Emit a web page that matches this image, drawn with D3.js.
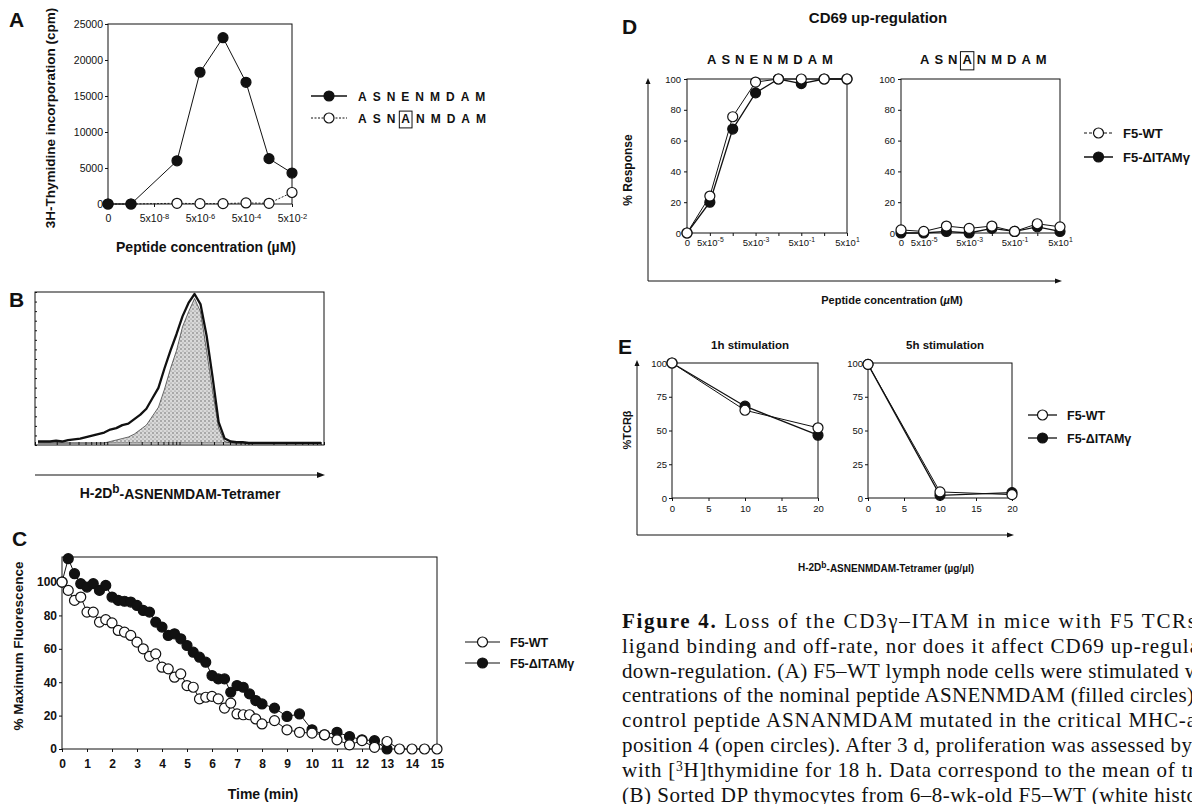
<!DOCTYPE html>
<html>
<head>
<meta charset="utf-8">
<style>
  body { margin: 0; background: #fff; }
  text { font-family: "Liberation Sans", Arial, sans-serif; fill: #111; }
  .bold { font-weight: bold; }
  .panel { font-size: 21px; font-weight: bold; }
  .caption { font-family: "Liberation Serif", "Times New Roman", serif; font-size: 21px; }
</style>
</head>
<body>
<svg id="fig" width="1192" height="804"></svg>
<script src="https://d3js.org/d3.v7.min.js"></script>
<script>
// ---- data ----
// A: proliferation vs peptide concentration (uM), 0 plotted at left edge
const concA = [0, 5e-9, 5e-7, 5e-6, 5e-5, 5e-4, 5e-3, 5e-2];
const asnenmdamA = [0, 0, 6000, 18300, 23100, 16900, 6300, 4300];
const asnanmdamA = [0, 0, 100, 50, 50, 150, 100, 1600];
const ticksA = [0, 5e-8, 5e-6, 5e-4, 5e-2];
const yTicksA = [0, 5000, 10000, 15000, 20000, 25000];

// B: tetramer histograms (48 channels)
const histOpen = [1, 1, 1, 1.5, 1, 2, 2.5, 3, 4, 5, 6, 7, 9, 10, 12, 13, 16, 19, 23, 30, 37, 50, 62, 73,
  85, 94, 100, 93, 72, 44, 14, 3, 1, 0.5, 0.5, 0, 0, 0, 0, 0, 0, 0, 0, 0, 0, 0, 0, 0];
const histFilled = [0, 0, 0, 0, 0, 0, 0, 0, 0, 0, 0, 0, 1, 2, 3, 4, 6, 9, 12, 18, 24, 36, 50, 62,
  78, 88, 97, 88, 62, 35, 10, 1, 0, 0, 0, 0, 0, 0, 0, 0, 0, 0, 0, 0, 0, 0, 0, 0];

// C: tetramer dissociation
const timeWT = [0, 0.25, 0.5, 0.75, 1, 1.25, 1.5, 1.75, 2, 2.25, 2.5, 2.75, 3, 3.25, 3.5, 3.75, 4, 4.25,
  4.5, 4.75, 5, 5.25, 5.5, 5.75, 6, 6.25, 6.5, 6.75, 7, 7.25, 7.5, 7.75, 8, 8.5, 9, 9.5, 10, 10.5,
  11, 11.5, 12, 12.5, 13, 13.5, 14, 14.5, 15];
const fluoWT = [100, 95, 89, 91, 82, 82, 76, 77.5, 75.5, 71, 70, 68, 64, 60, 55.5, 57, 49, 48,
  43, 45, 38, 37, 30, 31, 31.5, 30, 24.5, 27.5, 21, 20.5, 20.5, 18, 15, 17, 11.5, 10, 9.5, 8.5,
  5.5, 2.5, 5, 1, 4.5, 0, 0, 0, 0];
const timeItam = [0, 0.25, 0.5, 0.75, 1, 1.25, 1.5, 1.75, 2, 2.25, 2.5, 2.75, 3, 3.25, 3.5, 3.75, 4, 4.25,
  4.5, 4.75, 5, 5.25, 5.5, 5.75, 6, 6.25, 6.5, 6.75, 7, 7.25, 7.5, 7.75, 8, 8.5, 9, 9.5, 10, 10.5,
  11, 11.5, 12, 12.5, 13];
const fluoItam = [100, 114, 105, 99, 97, 99, 95, 98, 91, 89, 88.5, 88, 86, 83, 82, 76, 73, 68,
  69, 66, 62, 58, 55, 52, 44, 42, 42, 34, 38, 37, 33, 29, 27, 24.5, 19.5, 21, 11.5, 8.5,
  10, 7.5, 5.5, 5, 0];
const ticksC = d3.range(0, 16);
const yTicksC = [0, 20, 40, 60, 80, 100];

// D: CD69 up-regulation
const concD = [0, 5e-5, 5e-4, 5e-3, 5e-2, 5e-1, 5, 50];
const ticksD = [0, 5e-5, 5e-3, 5e-1, 50];
const asnenWT = [0, 24, 75.5, 98, 100, 100, 100, 100];
const asnenItam = [0, 20, 67.5, 91, 100, 97, 100, 100];
const asnanWT = [2, 1, 4.5, 3, 4.5, 1, 6, 4];
const asnanItam = [0, 0, 1, 0, 3, 1, 4, 1];
const yTicksD = [0, 20, 40, 60, 80, 100];

// E: TCR down-regulation
const doseE = [0, 10, 20];
const tcr1hWT = [100, 65, 52];
const tcr1hItam = [100, 68, 46.5];
const tcr5hWT = [99, 4.5, 2.5];
const tcr5hItam = [99, 2, 4];
const ticksE = [0, 5, 10, 15, 20];
const yTicksE = [0, 25, 50, 75, 100];

const captionLines = [
  ["Figure 4.", " Loss of the CD3γ–ITAM in mice with F5 TCRs"],
  ["", "ligand binding and off-rate, nor does it affect CD69 up-regula"],
  ["", "down-regulation. (A) F5–WT lymph node cells were stimulated w"],
  ["", "centrations of the nominal peptide ASNENMDAM (filled circles)"],
  ["", "control peptide ASNANMDAM mutated in the critical MHC-a"],
  ["", "position 4 (open circles). After 3 d, proliferation was assessed by"],
  ["", "with [|3|H]thymidine for 18 h. Data correspond to the mean of tr"],
  ["", "(B) Sorted DP thymocytes from 6–8-wk-old F5–WT (white histo"]
];
const captionOverflow = [4, 7, 8, 2, 4, 0, 3, 5];

// ---- helpers ----
const ink = "#111";
const svg = d3.select("#fig");

function box(x, y) {
  const [x0, x1] = x.range(), [y0, y1] = y.range();
  svg.append("rect").attr("x", x0).attr("y", y1).attr("width", x1 - x0).attr("height", y0 - y1)
    .attr("fill", "none").attr("stroke", ink).attr("stroke-width", 1);
}

function styleAxis(a, fs, bold) {
  a.select(".domain").remove();
  a.attr("font-family", "Liberation Sans, Arial, sans-serif").attr("font-size", fs);
  a.selectAll("text").attr("font-weight", bold ? "bold" : null).style("fill", ink);
  a.selectAll("line").attr("stroke", ink);
}

function sciTicks(a) {
  a.selectAll(".tick text").each(function () {
    const t = d3.select(this);
    const s = t.text();
    if (s === "" || s === "0") return;
    const e = Math.round(Math.log10(+s / 5));
    t.text("5x10");
    t.append("tspan").attr("dy", "-0.5em").attr("font-size", "0.72em").text(e);
  });
}

function series(xs, ys, x, y, filled, r, lw, dash) {
  const pts = xs.map((d, i) => [x(d), y(ys[i])]);
  svg.append("path").attr("d", d3.line()(pts)).attr("fill", "none").attr("stroke", ink)
    .attr("stroke-width", lw).attr("stroke-dasharray", dash || null);
  svg.append("g").selectAll("circle").data(pts).enter().append("circle")
    .attr("cx", p => p[0]).attr("cy", p => p[1]).attr("r", r)
    .attr("fill", filled ? ink : "#fff").attr("stroke", ink).attr("stroke-width", 1.2);
}

function legendItem(x1, x2, y, filled, label, fs, dash, lw) {
  svg.append("line").attr("x1", x1).attr("x2", x2).attr("y1", y).attr("y2", y)
    .attr("stroke", ink).attr("stroke-width", lw || 1.2).attr("stroke-dasharray", dash || null);
  svg.append("circle").attr("cx", (x1 + x2) / 2).attr("cy", y).attr("r", 5)
    .attr("fill", filled ? ink : "#fff").attr("stroke", ink).attr("stroke-width", 1.2);
  if (label) {
    svg.append("text").attr("x", x2 + 10).attr("y", y).attr("dy", "0.36em")
      .attr("class", "bold").attr("font-size", fs).text(label);
  }
}

function spaced(x, y, str, fs, ls, boxIdx) {
  const t = svg.append("text").attr("x", x).attr("y", y).attr("class", "bold")
    .attr("font-size", fs).attr("letter-spacing", ls).text(str);
  if (boxIdx != null) {
    const r = t.node().getExtentOfChar(boxIdx);
    svg.append("rect").attr("x", r.x - 2).attr("y", y - fs * 0.95).attr("width", r.width - ls + 4)
      .attr("height", fs * 1.4).attr("fill", "none").attr("stroke", ink).attr("stroke-width", 1);
  }
}

function rotLabel(x, y, str, fs) {
  return svg.append("text").attr("transform", `translate(${x},${y}) rotate(-90)`)
    .attr("text-anchor", "middle").attr("dy", "0.36em").attr("class", "bold")
    .attr("font-size", fs).text(str);
}

function arrowL(xv, yTop, xRight, yb) {
  svg.append("path").attr("d", `M${xv},${yTop + 5}V${yb}H${xRight - 6}`)
    .attr("fill", "none").attr("stroke", ink).attr("stroke-width", 1);
  svg.append("path").attr("d", `M${xv},${yTop}l-2.5,6h5z`).attr("fill", ink);
  svg.append("path").attr("d", `M${xRight},${yb}l-7,-2.5v5z`).attr("fill", ink);
}

function panelLetter(x, y, s) {
  svg.append("text").attr("x", x).attr("y", y).attr("class", "panel").text(s);
}

// ---- Panel A ----
panelLetter(9, 27, "A");
const xA = d3.scaleLog().domain([5e-10, 5e-2]).range([108, 292]);
const xAz = d => xA(d === 0 ? 5e-10 : d);
const yA = d3.scaleLinear().domain([0, 25000]).range([204, 24]);
box(xA, yA);
svg.append("g").attr("transform", "translate(108,0)")
  .call(d3.axisLeft(yA).tickValues(yTicksA).tickSize(3).tickPadding(2).tickFormat(d3.format("d")))
  .call(a => styleAxis(a, 10.5, false));
svg.append("g").attr("transform", "translate(0,204)")
  .call(d3.axisBottom(xA).tickValues(ticksA.map(d => d === 0 ? 5e-10 : d)).tickSize(3).tickPadding(8)
    .tickFormat(d => (d === 5e-10 ? "0" : String(d))))
  .call(a => styleAxis(a, 10.5, false))
  .call(sciTicks);
series(concA, asnanmdamA, xAz, yA, false, 5, 0.9, "2,1.5");
series(concA, asnenmdamA, xAz, yA, true, 5, 1);
rotLabel(50, 118, "3H-Thymidine incorporation (cpm)", 13.5);
svg.append("text").attr("x", 206).attr("y", 252).attr("text-anchor", "middle")
  .attr("class", "bold").attr("font-size", 14).text("Peptide concentration (µM)");
legendItem(311, 347, 96, true, "", 12, null, 1.3);
legendItem(311, 347, 118, false, "", 12, "2,1.5", 1);
spaced(358, 100.5, "ASNENMDAM", 12, 6);
spaced(358, 122.5, "ASNANMDAM", 12, 6, 3);

// ---- Panel B ----
panelLetter(9, 307, "B");
const xB = d3.scaleLinear().domain([0, 48]).range([35, 324]);
const yB = d3.scaleLinear().domain([0, 100]).range([443, 294]);
const xBlog = d3.scaleLog().domain([1, 1e4]).range([35, 324]);
const yBframe = d3.scaleLinear().domain([0, 1]).range([445, 292]);
const defs = svg.append("defs");
const pat = defs.append("pattern").attr("id", "stipple").attr("patternUnits", "userSpaceOnUse")
  .attr("width", 4).attr("height", 4);
pat.append("rect").attr("width", 4).attr("height", 4).attr("fill", "#d9d9d9");
pat.append("circle").attr("cx", 1).attr("cy", 1).attr("r", 0.7).attr("fill", "#555");
pat.append("circle").attr("cx", 3).attr("cy", 3).attr("r", 0.6).attr("fill", "#777");
const binX = (d, i) => xB(i + 0.5);
svg.append("path").datum(histFilled)
  .attr("d", d3.area().x(binX).y0(yB(0)).y1(d => yB(d)))
  .attr("fill", "url(#stipple)").attr("stroke", ink).attr("stroke-width", 0.6);
svg.append("path").datum(histOpen)
  .attr("d", d3.line().x(binX).y(d => yB(d)))
  .attr("fill", "none").attr("stroke", ink).attr("stroke-width", 2.3).attr("stroke-linejoin", "round");
box(xB, yBframe);
svg.append("g").attr("transform", "translate(0,445)")
  .call(d3.axisBottom(xBlog).tickSize(-3).tickFormat(""))
  .call(a => styleAxis(a, 8, false));
svg.append("g").attr("transform", "translate(35,0)")
  .call(d3.axisLeft(d3.scaleLinear().domain([0, 16]).range([445, 292])).ticks(16).tickSize(-2).tickFormat(""))
  .call(a => styleAxis(a, 8, false));
svg.append("path").attr("d", "M35,475H318").attr("stroke", ink).attr("stroke-width", 1.2);
svg.append("path").attr("d", "M325,475l-8,-3v6z").attr("fill", ink);
const tB = svg.append("text").attr("x", 180).attr("y", 498).attr("text-anchor", "middle")
  .attr("class", "bold").attr("font-size", 14);
tB.append("tspan").text("H-2D");
tB.append("tspan").attr("dy", "-0.4em").attr("font-size", "0.85em").text("b");
tB.append("tspan").attr("dy", "0.4em").text("-ASNENMDAM-Tetramer");

// ---- Panel C ----
panelLetter(12, 546, "C");
const xC = d3.scaleLinear().domain([0, 15]).range([62, 437]);
const yC = d3.scaleLinear().domain([0, 115]).range([749, 557]);
box(xC, yC);
svg.append("g").attr("transform", "translate(62,0)")
  .call(d3.axisLeft(yC).tickValues(yTicksC).tickSize(3).tickPadding(2))
  .call(a => styleAxis(a, 12, true));
svg.append("g").attr("transform", "translate(0,749)")
  .call(d3.axisBottom(xC).tickValues(ticksC).tickSize(3).tickPadding(7))
  .call(a => styleAxis(a, 12, true));
series(timeItam, fluoItam, xC, yC, true, 5, 1);
series(timeWT, fluoWT, xC, yC, false, 5, 1);
rotLabel(18, 646, "% Maximum Fluorescence", 13.5);
svg.append("text").attr("x", 263).attr("y", 799).attr("text-anchor", "middle")
  .attr("class", "bold").attr("font-size", 14).text("Time (min)");
legendItem(465, 500, 642, false, "F5-WT", 12.5);
legendItem(465, 500, 663, true, "F5-ΔITAMγ", 12.5);

// ---- Panel D ----
panelLetter(622, 34, "D");
svg.append("text").attr("x", 878).attr("y", 23).attr("text-anchor", "middle")
  .attr("class", "bold").attr("font-size", 15).text("CD69 up-regulation");
const yD = d3.scaleLinear().domain([0, 100]).range([233, 79]);
function panelD(x0, x1, wt, itam, title, titleX, boxIdx) {
  const x = d3.scaleLog().domain([5e-6, 50]).range([x0, x1]);
  const xz = d => x(d === 0 ? 5e-6 : d);
  box(x, yD);
  svg.append("g").attr("transform", `translate(${x0},0)`)
    .call(d3.axisLeft(yD).tickValues(yTicksD).tickSize(3).tickPadding(3))
    .call(a => styleAxis(a, 9.5, false));
  svg.append("g").attr("transform", "translate(0,233)")
    .call(d3.axisBottom(x).tickValues(concD.map(d => d === 0 ? 5e-6 : d)).tickSize(3).tickPadding(3)
      .tickFormat(d => d === 5e-6 ? "0" : (ticksD.includes(d) ? String(d) : "")))
    .call(a => styleAxis(a, 9.5, false))
    .call(sciTicks);
  series(concD, itam, xz, yD, true, 5, 1.3);
  series(concD, wt, xz, yD, false, 5, 1);
  spaced(titleX, 64, title, 13, 5, boxIdx);
}
panelD(687, 847, asnenWT, asnenItam, "ASNENMDAM", 707);
panelD(901, 1060, asnanWT, asnanItam, "ASNANMDAM", 920, 3);
arrowL(648, 78, 1062, 281);
rotLabel(628, 170, "% Response", 12);
const tD = svg.append("text").attr("x", 892).attr("y", 304).attr("text-anchor", "middle")
  .attr("class", "bold").attr("font-size", 11);
tD.append("tspan").text("Peptide concentration (");
tD.append("tspan").attr("font-style", "italic").text("µ");
tD.append("tspan").text("M)");
legendItem(1084, 1113, 133, false, "F5-WT", 13, "3,2", 1);
legendItem(1084, 1113, 157, true, "F5-ΔITAMγ", 13, null, 1.5);

// ---- Panel E ----
panelLetter(618, 354, "E");
const yE = d3.scaleLinear().domain([0, 100]).range([498, 363]);
function panelE(x0, x1, wt, itam, title) {
  const x = d3.scaleLinear().domain([0, 20]).range([x0, x1]);
  box(x, yE);
  svg.append("g").attr("transform", `translate(${x0},0)`)
    .call(d3.axisLeft(yE).tickValues(yTicksE).tickSize(3).tickPadding(2))
    .call(a => styleAxis(a, 9.5, false));
  svg.append("g").attr("transform", "translate(0,498)")
    .call(d3.axisBottom(x).tickValues(ticksE).tickSize(3).tickPadding(4))
    .call(a => styleAxis(a, 9.5, false));
  series(doseE, itam, x, yE, true, 5, 1.3);
  series(doseE, wt, x, yE, false, 5, 1);
  svg.append("text").attr("x", (x0 + x1) / 2 + 5).attr("y", 349).attr("text-anchor", "middle")
    .attr("class", "bold").attr("font-size", 11.5).text(title);
}
panelE(672, 818, tcr1hWT, tcr1hItam, "1h stimulation");
panelE(868, 1012, tcr5hWT, tcr5hItam, "5h stimulation");
arrowL(637, 360, 1014, 535);
rotLabel(627, 430, "%TCRβ", 11);
const tE = svg.append("text").attr("x", 886).attr("y", 571).attr("text-anchor", "middle")
  .attr("class", "bold").attr("font-size", 10);
tE.append("tspan").text("H-2D");
tE.append("tspan").attr("dy", "-0.4em").attr("font-size", "0.85em").text("b");
tE.append("tspan").attr("dy", "0.4em").text("-ASNENMDAM-Tetramer (µg/µl)");
legendItem(1028, 1057, 415, false, "F5-WT", 12.5, null, 1.3);
legendItem(1028, 1057, 438, true, "F5-ΔITAMγ", 12.5, null, 1.3);

// ---- caption ----
const capX = 622;
captionLines.forEach((ln, i) => {
  const t = svg.append("text").attr("class", "caption").attr("x", capX).attr("y", 628 + i * 24.8)
    .attr("textLength", 1192 - capX + captionOverflow[i]).attr("lengthAdjust", "spacing");
  if (ln[0]) t.append("tspan").attr("font-weight", "bold").text(ln[0]);
  ln[1].split("|").forEach((part, k) => {
    // superscript shifts up 6px and the following run comes back down by the same amount
    if (k === 1) t.append("tspan").attr("dy", -6).attr("font-size", "0.65em").text(part);
    else if (k === 2) t.append("tspan").attr("dy", 6).text(part);
    else t.append("tspan").text(part);
  });
});
</script>
</body>
</html>
